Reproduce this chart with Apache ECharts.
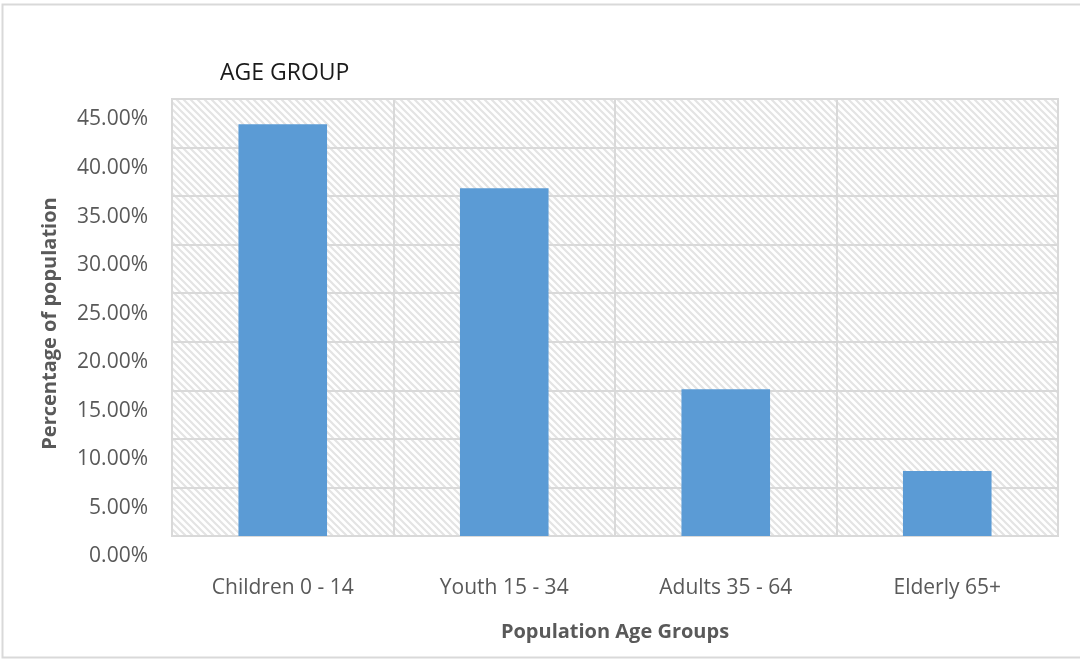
<!DOCTYPE html>
<html>
<head>
<meta charset="utf-8">
<script src="https://cdn.jsdelivr.net/npm/echarts@6/dist/echarts.min.js"></script>
<style>
  html, body { margin: 0; padding: 0; background: #ffffff; }
  #chart { width: 1080px; height: 659px; }
</style>
</head>
<body>
<div id="chart"></div>
<script>
// Share of population by age group
const categories = ['Children 0 - 14', 'Youth 15 - 34', 'Adults 35 - 64', 'Elderly 65+'];
const shares = [42.4, 35.8, 15.1, 6.7];
const yMax = 45;
const yStep = 5;

const FONT = '"Open Sans", Lato, sans-serif';

// Light diagonal hatching for the plot area
function hatchPattern() {
  const s = 7;
  const c = document.createElement('canvas');
  c.width = s; c.height = s;
  const g = c.getContext('2d');
  g.fillStyle = '#ffffff';
  g.fillRect(0, 0, s, s);
  g.strokeStyle = '#e4e4e4';
  g.lineWidth = 2.2;
  g.beginPath();
  g.moveTo(-1, -1); g.lineTo(s + 1, s + 1);
  g.moveTo(-1, s - 1); g.lineTo(1, s + 1);
  g.moveTo(s - 1, -1); g.lineTo(s + 1, 1);
  g.stroke();
  return c;
}

const chart = echarts.init(document.getElementById('chart'), null, { renderer: 'canvas' });

chart.setOption({
  backgroundColor: '#ffffff',
  animation: false,
  title: {
    text: 'AGE GROUP',
    left: 215,
    top: 57,
    textStyle: { fontFamily: FONT, fontSize: 23, fontWeight: 'normal', color: '#1a1a1a' }
  },
  graphic: [{
    type: 'rect',
    shape: { x: 2.5, y: 4.5, width: 1100, height: 653 },
    style: { fill: 'none', stroke: '#d9d9d9', lineWidth: 2 },
    silent: true
  }],
  grid: {
    left: 172, right: 22, top: 99, bottom: 123,
    show: true,
    backgroundColor: { image: hatchPattern(), repeat: 'repeat' },
    borderColor: '#d9d9d9',
    borderWidth: 2
  },
  xAxis: {
    type: 'category',
    data: categories,
    name: 'Population Age Groups',
    nameLocation: 'middle',
    nameGap: 86,
    nameTextStyle: { fontFamily: FONT, fontSize: 20, fontWeight: 'bold', color: '#595959' },
    axisLine: { show: false },
    axisTick: { show: false },
    axisLabel: { margin: 42, fontFamily: FONT, fontSize: 21, color: '#595959' },
    splitLine: { show: true, lineStyle: { color: '#d9d9d9', width: 2 } }
  },
  yAxis: {
    type: 'value',
    min: 0,
    max: yMax,
    interval: yStep,
    name: 'Percentage of population',
    nameLocation: 'middle',
    nameGap: 112,
    nameTextStyle: { fontFamily: FONT, fontSize: 20, fontWeight: 'bold', color: '#595959', padding: [0, 12, 0, 0] },
    axisLine: { show: false },
    axisTick: { show: false },
    axisLabel: {
      margin: 24,
      fontFamily: FONT,
      fontSize: 21,
      color: '#595959',
      verticalAlign: 'top',
      padding: [10, 0, 0, 0],
      formatter: v => v.toFixed(2) + '%'
    },
    splitLine: { show: true, lineStyle: { color: '#d9d9d9', width: 2 } }
  },
  series: [{
    type: 'bar',
    data: shares,
    barWidth: '40%',
    itemStyle: { color: '#5b9bd5' }
  }]
});
</script>
</body>
</html>
